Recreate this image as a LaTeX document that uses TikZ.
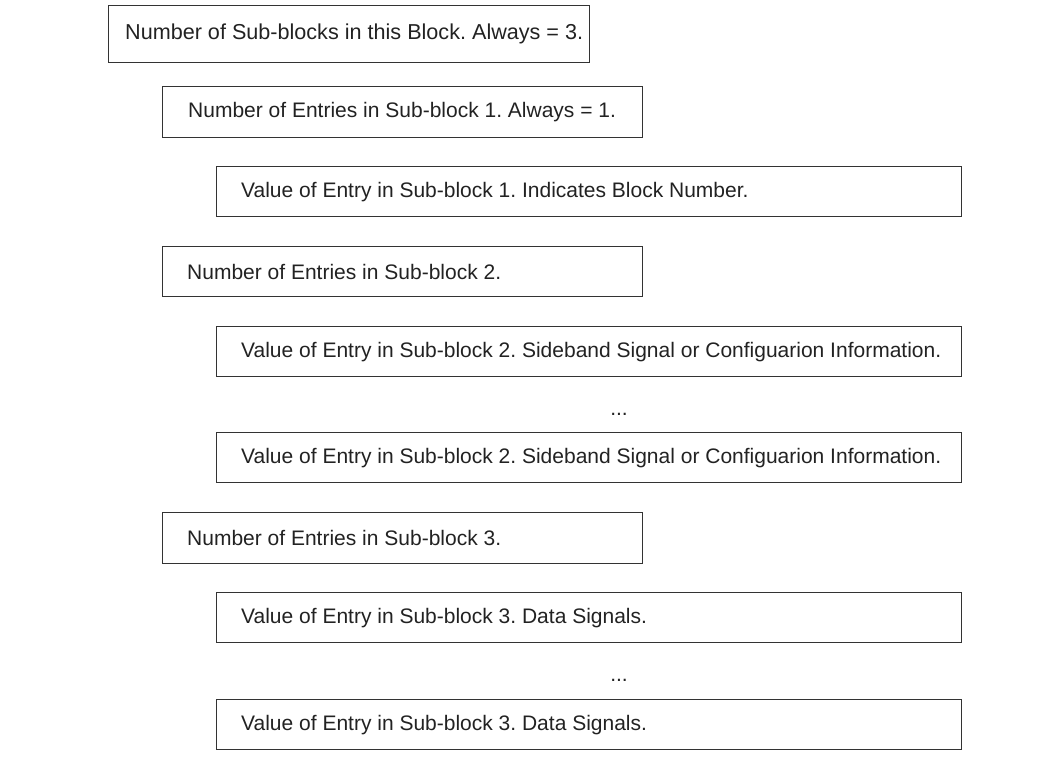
\documentclass[tikz,border=0pt]{standalone}
\usepackage{fontspec}
\setmainfont{Liberation Sans}
\frenchspacing
\definecolor{linec}{HTML}{333333}
\definecolor{txtc}{HTML}{222222}
\begin{document}
\frenchspacing
\begin{tikzpicture}[x=1bp,y=-1bp,
  blk/.style n args={2}{draw=linec, line width=1.3bp, anchor=north west, inner sep=0pt,
    minimum width=#1, minimum height=#2},
  lbl/.style={anchor=west, inner sep=0pt, text=txtc, font=\fontsize{21bp}{25bp}\selectfont},
  lblbig/.style={lbl, font=\fontsize{21.6bp}{25bp}\selectfont},
  dotsl/.style={inner sep=0pt, text=txtc, font=\fontsize{21bp}{25bp}\selectfont}]
\useasboundingbox (0,0) rectangle (1060,766);
\node[blk={481bp}{57bp}] (b1) at (108,5) {};
\node[lblbig] (t1) at ([xshift=17bp]b1.west) {Number of Sub-blocks in this Block. Always = 3.};
\node[blk={480bp}{51bp}] (b2) at (162,86) {};
\node[lbl] (t2) at ([xshift=26bp]b2.west) {Number of Entries in Sub-block 1. Always = 1.};
\node[blk={745bp}{50bp}] (b3) at (216,166) {};
\node[lbl] (t3) at ([xshift=25bp]b3.west) {Value of Entry in Sub-block 1. Indicates Block Number.};
\node[blk={480bp}{50bp}] (b4) at (162,246) {};
\node[lbl] (t4) at ([xshift=25bp]b4.west) {Number of Entries in Sub-block 2.};
\node[blk={745bp}{50bp}] (b5) at (216,326) {};
\node[lbl] (t5) at ([xshift=25bp]b5.west) {Value of Entry in Sub-block 2. Sideband Signal or Configuarion Information.};
\node[dotsl] (d1) at (619,414) {...};
\node[blk={745bp}{50bp}] (b7) at (216,432) {};
\node[lbl] (t7) at ([xshift=25bp]b7.west) {Value of Entry in Sub-block 2. Sideband Signal or Configuarion Information.};
\node[blk={480bp}{51bp}] (b8) at (162,512) {};
\node[lbl] (t8) at ([xshift=25bp]b8.west) {Number of Entries in Sub-block 3.};
\node[blk={745bp}{50bp}] (b9) at (216,592) {};
\node[lbl] (t9) at ([xshift=25bp]b9.west) {Value of Entry in Sub-block 3. Data Signals.};
\node[dotsl] (d2) at (619,680) {...};
\node[blk={745bp}{50bp}] (b11) at (216,699) {};
\node[lbl] (t11) at ([xshift=25bp]b11.west) {Value of Entry in Sub-block 3. Data Signals.};
\end{tikzpicture}
\end{document}
